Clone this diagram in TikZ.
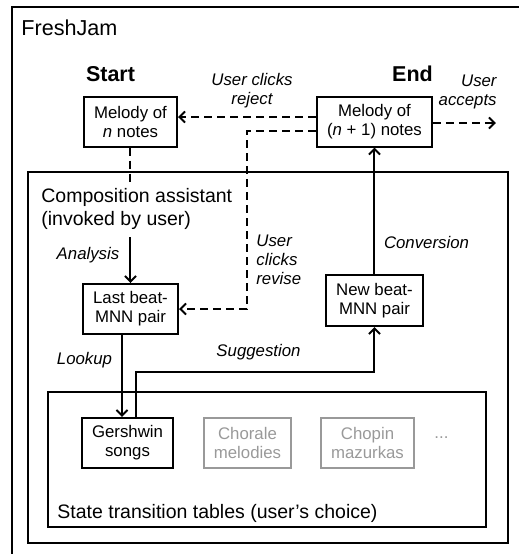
\documentclass[tikz,border=0pt]{standalone}
\usepackage{fontspec}
\setmainfont{Liberation Sans}
\usepackage{tikz}
\usetikzlibrary{calc}
\usetikzlibrary{positioning}
\usetikzlibrary{arrows.meta}
\definecolor{tabgrey}{gray}{0.6}
\tikzstyle{box} = [draw, line width=1pt, inner sep=0pt, align=center, minimum height=25pt, font=\fontsize{8.4}{9.5}\selectfont]
\tikzstyle{greybox} = [box, draw=tabgrey, text=tabgrey]
\tikzstyle{lbl} = [inner sep=0pt, font=\fontsize{8.4}{9.5}\selectfont\itshape]
\tikzstyle{big} = [inner sep=0pt, align=left, font=\fontsize{9.75}{11.5}\selectfont]
\tikzstyle{head} = [inner sep=0pt, font=\fontsize{10.75}{12}\selectfont\bfseries]
\tikzstyle{frame} = [line width=1pt]
\tikzstyle{flow} = [line width=1pt, -{Straight Barb[length=2.8pt,width=5.5pt]}]
\tikzstyle{choice} = [flow, dash pattern=on 4pt off 2.5pt]

\begin{document}
\begin{tikzpicture}[x=0.5pt, y=-0.5pt, node distance=60pt]
    \useasboundingbox (0,0) rectangle (519,554);
    \clip (0,0) rectangle (519,554);

    % frames
    \draw[frame] (12,7) rectangle (540,580);
    \draw[frame] (28,172) rectangle (508,543);
    \draw[frame] (48,392) rectangle (486,527);

    \node[big, anchor=west, font=\fontsize{10.8}{12}\selectfont](fj) at (21,28) {FreshJam};
    \node[head](st) at (110.5,74) {Start};
    \node[head](en) at (412.5,74) {End};

    \node[box, minimum width=46.5pt](mStart) at (130.5,121.5) {Melody of\\\textit{n} notes};
    \node[box, minimum width=57.5pt](mEnd) at (374.5,121.5) {Melody of\\(\textit{n}\;+\;1) notes};
    \node[box, minimum width=47.5pt](last) at (130.5,309) {Last beat-\\MNN pair};
    \node[box, minimum width=48.5pt, minimum height=25.5pt](new) at (374.5,300.5) {New beat-\\MNN pair};

    \node[box, minimum width=45.5pt](gersh) at (127.5,443) {Gershwin\\songs};
    \node[greybox, minimum width=43.5pt, right of=gersh](chorale) {Chorale\\melodies};
    \node[greybox, minimum width=46.5pt, right of=chorale](chopin) {Chopin\\mazurkas};
    \node[inner sep=0pt, text=tabgrey, font=\fontsize{8.4}{9.5}\selectfont, right of=chopin, node distance=37pt, yshift=2.5pt](more) {...};

    \node[lbl, align=center](rej) at (252,91) {User clicks\\reject};
    \node[lbl, align=right, anchor=east](acc) at (497,92) {User\\accepts};
    \node[big, anchor=west](ca) at (41,208.5) {Composition assistant\\(invoked by user)};
    \node[lbl](ana) at (88,255) {Analysis};
    \node[lbl, align=left, anchor=west](rev) at (256,260) {User\\clicks\\revise};
    \node[lbl](conv) at (426.5,242) {Conversion};
    \node[lbl](look) at (84.5,360) {Lookup};
    \node[lbl](sug) at (258.5,352) {Suggestion};
    \node[big, anchor=west](stt) at (57,513) {State transition tables (user's choice)};

    \coordinate (anaTop) at (130.5,185);
    \coordinate (anaStart) at (130.5,237);
    \coordinate (rv) at (247,131);
    \coordinate (accEnd) at (496,123);
    \coordinate (sg) at (374.5,372);

    \draw[choice] ([yshift=2.25pt]mEnd.west) -- ([yshift=2.25pt]mStart.east);
    \draw[choice] (rv -| mEnd.west) -- (rv) |- (last.east);
    \draw[choice] (mEnd.east |- accEnd) -- (accEnd);
    \draw[frame, dash pattern=on 4pt off 2.5pt] (mStart.south) -- (anaTop);
    \draw[flow] (anaStart) -- (last.north);
    \draw[flow] (new.north) -- (mEnd.south);
    \draw[flow] ([xshift=-4.25pt]last.south) -- ([xshift=-4.25pt]last.south |- gersh.north);
    \draw[flow] ([xshift=4.25pt]gersh.north) |- (sg) -- (new.south);
\end{tikzpicture}
\end{document}
